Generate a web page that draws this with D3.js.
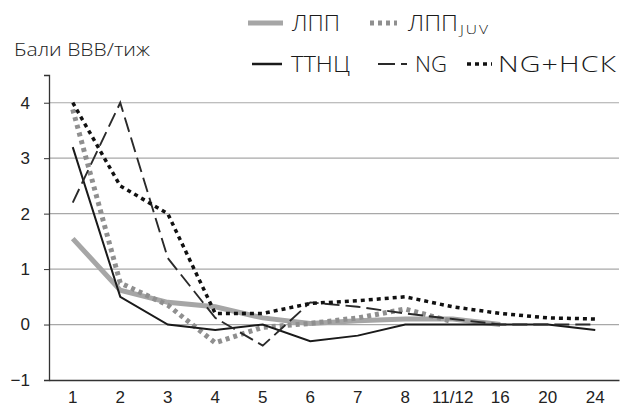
<!DOCTYPE html>
<html><head><meta charset="utf-8">
<script src="https://cdn.jsdelivr.net/npm/d3@7"></script>
<style>body{margin:0;background:#fff}svg{display:block}</style>
</head><body>
<script>
const categories = ["1","2","3","4","5","6","7","8","11/12","16","20","24"];
const lpp      = [1.55, 0.62, 0.4, 0.32, 0.12, 0.02, 0.07, 0.1, 0.1, 0.0, null, null];
const lppJuv   = [3.88, 0.75, 0.35, -0.33, -0.05, 0.02, 0.12, 0.28, 0.05, null, null, null];
const ttnc     = [3.2, 0.5, 0.0, -0.1, 0.0, -0.3, -0.2, 0.0, 0.0, 0.0, 0.0, -0.1];
const ng       = [2.2, 4.0, 1.2, 0.12, -0.38, 0.4, 0.32, 0.2, 0.1, 0.0, 0.0, 0.0];
const ngHck    = [4.0, 2.5, 2.0, 0.2, 0.2, 0.38, 0.43, 0.5, 0.32, 0.2, 0.12, 0.1];
const yTicks   = [-1, 0, 1, 2, 3, 4];
const yTitle   = "Бали ВВВ/тиж";

const W = 621, H = 417;
const svg = d3.select("body").append("svg").attr("width", W).attr("height", H);

const x = d3.scaleBand().domain(categories).range([49, 619]);
const y = d3.scaleLinear().domain([-1, 4.5]).range([380, 75]);
const cx = c => x(c) + x.bandwidth() / 2;

// gridlines
svg.append("g").selectAll("line").data(yTicks.filter(v => v > -1)).join("line")
  .attr("x1", 49).attr("x2", 619)
  .attr("y1", d => y(d)).attr("y2", d => y(d))
  .attr("stroke", "#a8a8a8").attr("stroke-width", 1.2);

// y axis
const yAxis = d3.axisLeft(y).tickValues(yTicks).tickSize(5).tickPadding(14)
  .tickFormat(d => d < 0 ? "\u2212" + Math.abs(d) : d);
const gy = svg.append("g").attr("transform", "translate(49,0)").call(yAxis);
gy.select(".domain").attr("stroke", "#333").attr("stroke-width", 1.3);
gy.selectAll(".tick line").attr("stroke", "#333");
gy.selectAll("text").attr("font-family", "Liberation Sans, Arial, sans-serif")
  .attr("font-size", 17).attr("fill", "#222");

// x axis at y=-1
const xAxis = d3.axisBottom(x).tickSize(0).tickPadding(11);
const gx = svg.append("g").attr("transform", `translate(0,${y(-1)})`).call(xAxis);
gx.select(".domain").attr("stroke", "#333").attr("stroke-width", 1.3);
gx.selectAll("text").attr("font-family", "Liberation Sans, Arial, sans-serif")
  .attr("font-size", 17).attr("fill", "#222");

// helper: widen text to a target width (geometric-looking)
function fitText(sel, tx, ty, tw, maxScale) {
  const node = sel.node();
  const w = node.getComputedTextLength();
  const s = Math.min(maxScale, tw / w);
  sel.attr("x", 0).attr("y", 0).attr("transform", `translate(${tx},${ty}) scale(${s},1)`);
  if (w * s < tw - 1) sel.attr("textLength", tw / s).attr("lengthAdjust", "spacing");
}

const textFont = "'Open Sans', Lato, sans-serif";

// y title
const yt = svg.append("text").text(yTitle)
  .attr("font-family", textFont).attr("font-weight", 300)
  .attr("font-size", 19).attr("fill", "#1a1a1a");
fitText(yt, 14, 56, 136, 1.12);

const series = [
  {name: "ЛПП", values: lpp, stroke: "#a6a6a6", width: 5, dash: null},
  {name: "ЛПП", sub: "JUV", values: lppJuv, stroke: "#8f8f8f", width: 5, dash: "4,4"},
  {name: "ТТНЦ", values: ttnc, stroke: "#1a1a1a", width: 2, dash: null},
  {name: "NG", values: ng, stroke: "#2a2a2a", width: 1.9, dash: "15,6"},
  {name: "NG+НСК", values: ngHck, stroke: "#111", width: 3.5, dash: "4,4"}
];

const line = d3.line().defined(d => d.v != null).x(d => cx(d.c)).y(d => y(d.v));
series.forEach(s => {
  svg.append("path")
    .datum(categories.map((c, i) => ({c, v: s.values[i]})))
    .attr("d", line).attr("fill", "none")
    .attr("stroke", s.stroke).attr("stroke-width", s.width)
    .attr("stroke-dasharray", s.dash);
});

// legend
const legendPos = [
  {lx: 248, ly: 23, tx: 292, tw: 48},
  {lx: 370, ly: 23, tx: 408, tw: 50},
  {lx: 252, ly: 64, tx: 291, tw: 59},
  {lx: 378, ly: 64, tx: 415, tw: 32},
  {lx: 467, ly: 64, tx: 498, tw: 118}
];
const lg = svg.append("g");
series.forEach((s, i) => {
  const p = legendPos[i];
  const len = i === 0 ? 35 : (i === 1 ? 27 : (i === 3 ? 29 : (i === 4 ? 25 : 30)));
  lg.append("line").attr("x1", p.lx).attr("x2", p.lx + len).attr("y1", p.ly).attr("y2", p.ly)
    .attr("stroke", s.stroke).attr("stroke-width", s.width === 2 ? 2.5 : s.width)
    .attr("stroke-dasharray", i === 3 ? "17,6,6" : s.dash);
  const t = lg.append("text").text(s.name)
    .attr("font-family", textFont).attr("font-weight", 300)
    .attr("font-size", 22).attr("fill", "#1a1a1a");
  fitText(t, p.tx, p.ly + 8, p.tw, 1.3);
  if (s.sub) {
    const st = lg.append("text").text(s.sub)
      .attr("font-family", textFont).attr("font-weight", 300)
      .attr("font-size", 12).attr("fill", "#1a1a1a");
    fitText(st, p.tx + p.tw + 2, p.ly + 11, 28, 1.3);
  }
});
</script>
</body></html>
